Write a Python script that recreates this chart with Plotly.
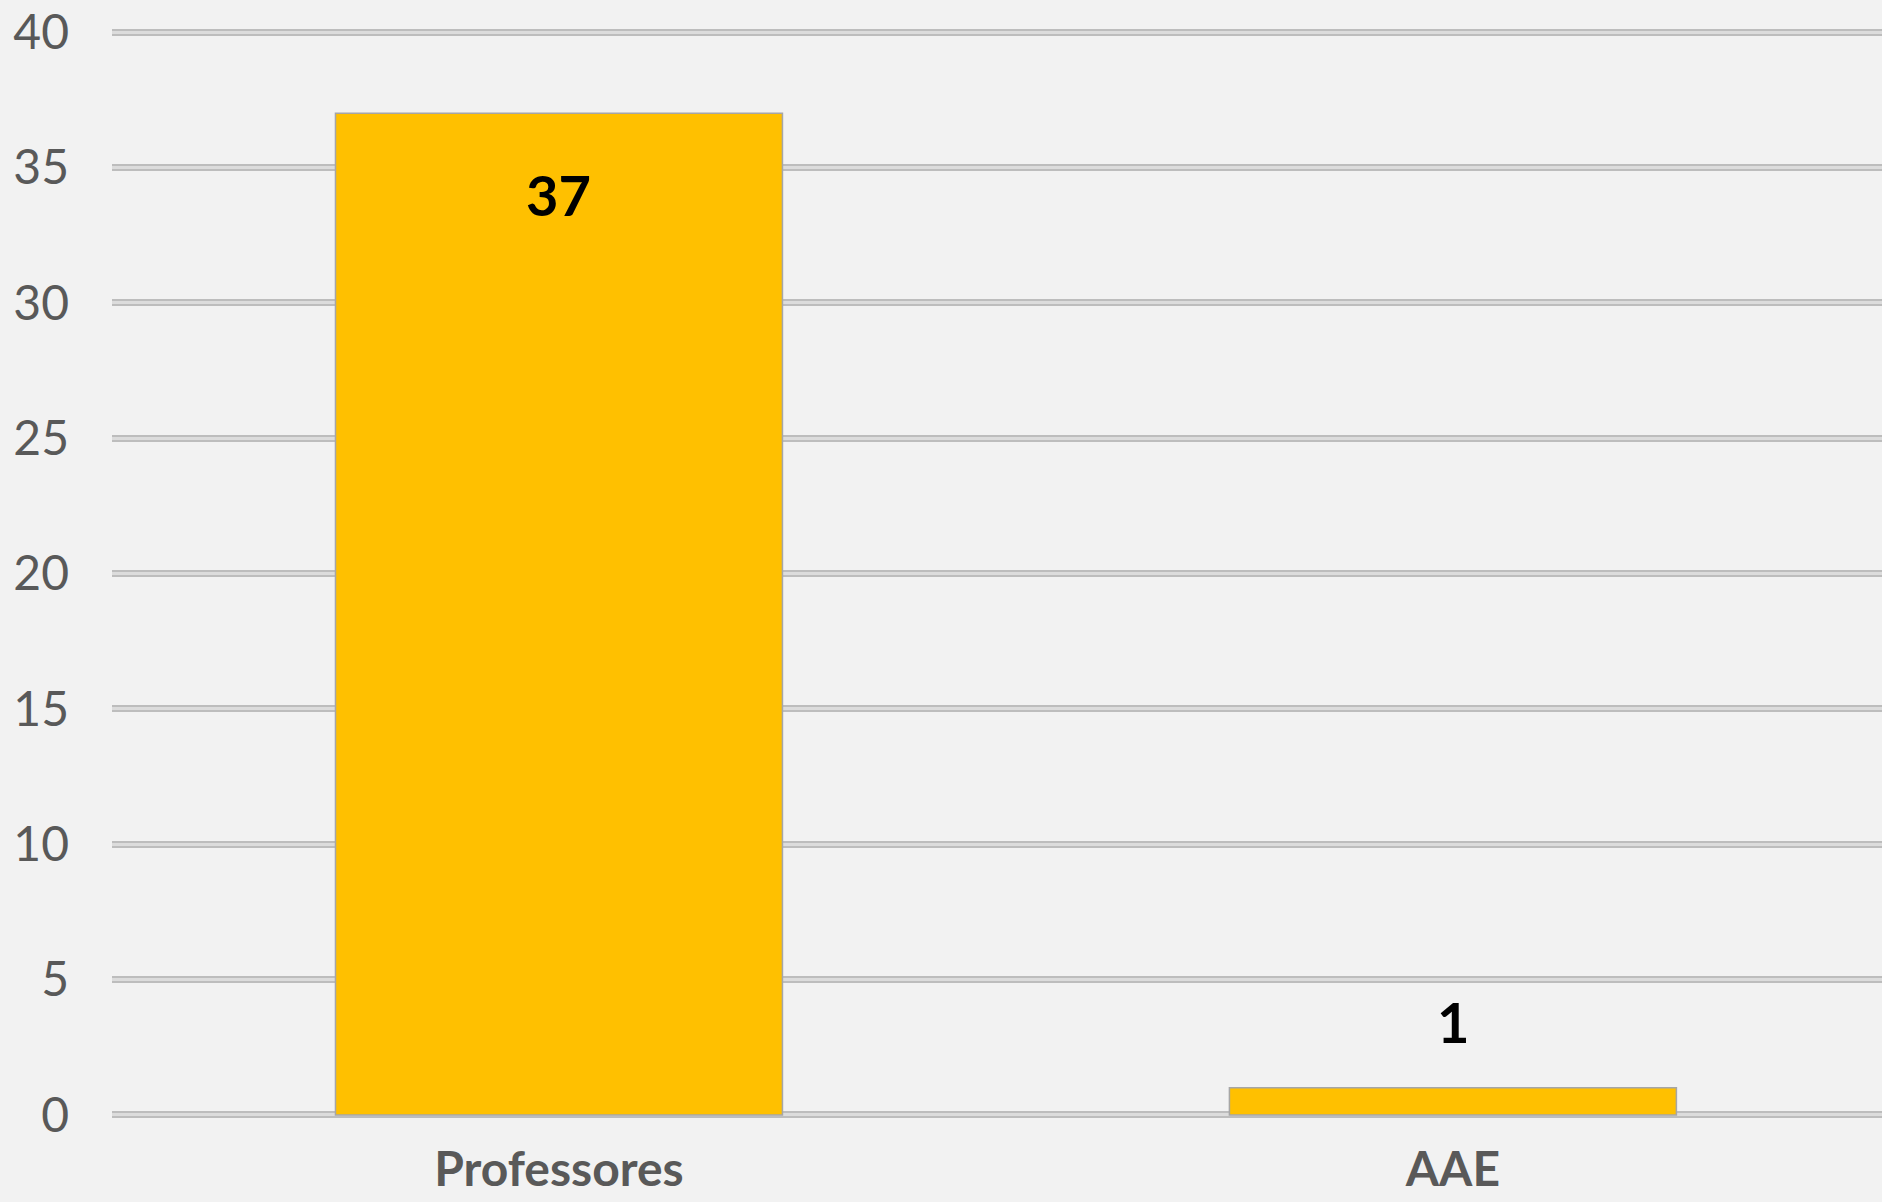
import plotly.graph_objects as go

CATEGORIES = ["Professores", "AAE"]
VALUES = [37, 1]
Y_TICKS = [0, 5, 10, 15, 20, 25, 30, 35, 40]

BG = "#F2F2F2"
BAR = "#FFC000"
GRID_DARK = "#BDBDBD"
GRID_LIGHT = "#DCDCDC"
TEXT = "#595959"
FONT = "Lato, Calibri, sans-serif"

fig = go.Figure()
fig.add_trace(
    go.Bar(
        x=CATEGORIES,
        y=VALUES,
        marker=dict(color=BAR, line=dict(color="#A6A6A6", width=1.5)),
        hoverinfo="x+y",
    )
)

# data labels: inside near the top for tall bars, above for short ones
for cat, val in zip(CATEGORIES, VALUES):
    inside = val > 5
    fig.add_annotation(
        x=cat,
        y=val,
        text=f"<b>{val}</b>",
        showarrow=False,
        yanchor="top" if inside else "bottom",
        yshift=-46 if inside else 31,
        font=dict(family=FONT, size=56, color="#000000"),
    )

fig.update_layout(
    width=1882,
    height=1202,
    margin=dict(l=112, r=0, t=28, b=83),
    paper_bgcolor=BG,
    plot_bgcolor=BG,
    showlegend=False,
    bargap=0.5,
    font=dict(family=FONT, color=TEXT),
    xaxis=dict(
        range=[-0.5, 1.48],
        automargin=False,
        showgrid=False,
        zeroline=False,
        showline=False,
        tickfont=dict(family=FONT, size=48, color=TEXT, weight="bold"),
        ticklabelstandoff=18,
    ),
    yaxis=dict(
        range=[-0.15, 40.15],
        automargin=False,
        tickvals=Y_TICKS,
        showgrid=True,
        gridcolor=GRID_DARK,
        gridwidth=7,
        zeroline=False,
        showline=False,
        tickfont=dict(family=FONT, size=48, color=TEXT),
        ticklabelstandoff=42,
    ),
    yaxis2=dict(
        range=[-0.15, 40.15],
        tickvals=Y_TICKS,
        overlaying="y",
        showgrid=True,
        gridcolor=GRID_LIGHT,
        gridwidth=3,
        zeroline=False,
        showticklabels=False,
    ),
)

# dummy trace so the overlay axis (light grid centre) is drawn
fig.add_trace(go.Scatter(x=[CATEGORIES[0]], y=[0], yaxis="y2", mode="markers",
                         marker=dict(opacity=0), hoverinfo="skip"))

fig.write_html(
    "out.html",
    config={"displayModeBar": False},
    post_script="document.body.style.margin='0';document.body.style.overflow='hidden';"
                "document.body.style.background='" + BG + "';",
)
